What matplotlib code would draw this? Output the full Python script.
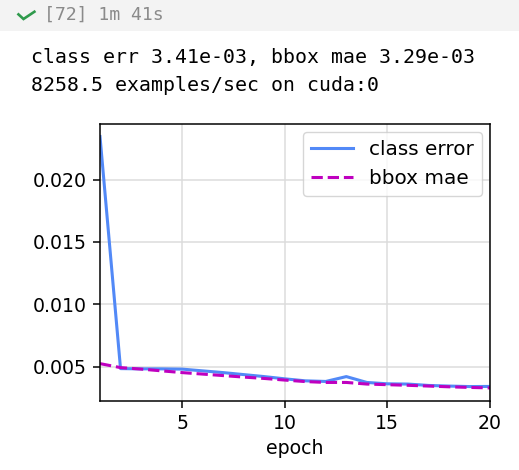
import matplotlib
matplotlib.use("Agg")
import matplotlib.pyplot as plt
from matplotlib.patches import Rectangle
from matplotlib.lines import Line2D

# per-epoch values
epochs = list(range(1, 21))
class_err = [0.02345, 0.00484, 0.00482, 0.00482, 0.0048, 0.00466, 0.00452, 0.00436, 0.0042, 0.00402,
             0.00386, 0.00381, 0.0042, 0.00373, 0.00362, 0.0036, 0.00349, 0.00344, 0.0034, 0.00341]
bbox_mae = [0.00524, 0.00492, 0.0048, 0.00466, 0.00452, 0.0044, 0.00428, 0.00416, 0.00405, 0.00392,
            0.0038, 0.00373, 0.00373, 0.0036, 0.00355, 0.0035, 0.00344, 0.00338, 0.00333, 0.00329]
header = "[72] 1m 41s"
out_lines = ["class err 3.41e-03, bbox mae 3.29e-03", "8258.5 examples/sec on cuda:0"]

W, H = 519, 470
s = 1.36  # screenshot scale
fig = plt.figure(figsize=(W / 100, H / 100), dpi=100)

# cell header bar
fig.patches.append(Rectangle((0, 1 - 31 / H), 1, 31 / H, transform=fig.transFigure,
                             facecolor="#f3f3f3", edgecolor="none", zorder=0))
# check mark
fig.add_artist(Line2D([17.5 / W, 23.5 / W, 35.5 / W], [1 - 13.5 / H, 1 - 19 / H, 1 - 11 / H],
                      transform=fig.transFigure, color="#2f9a4c", lw=1.9,
                      solid_joinstyle="miter", solid_capstyle="butt"))
fig.text(44 / W, 1 - 15 / H, header, color="#8a8a8a", fontsize=13.1, va="center",
         family="DejaVu Sans Mono")
fig.text(31 / W, 1 - 57 / H, out_lines[0], fontsize=14.3, va="center", family="DejaVu Sans Mono")
fig.text(31 / W, 1 - 86 / H, out_lines[1], fontsize=14.3, va="center", family="DejaVu Sans Mono")

ax = fig.add_axes([100 / W, (H - 400.5) / H, 390 / W, 276.5 / H])
ax.plot(epochs, class_err, "-", color="#5289f7", lw=2.2, label="class error")
ax.plot(epochs, bbox_mae, "m--", lw=2.2, label="bbox mae")
ax.set_xlim(1, 20)
ax.set_xticks([5, 10, 15, 20])
ax.set_yticks([0.005, 0.010, 0.015, 0.020])
ax.grid(True, color="#dcdcdc", lw=0.8 * s)
ax.set_xlabel("epoch", fontsize=10 * s, labelpad=3.5 * s)
ax.tick_params(labelsize=10 * s, length=3.5 * s, width=0.8 * s, pad=3.5 * s)
for sp in ax.spines.values():
    sp.set_linewidth(0.8 * s)
ax.legend(fontsize=14.4, loc="upper right", framealpha=0.8, handlelength=2.1,
          borderaxespad=0.4)

fig.savefig("out.png", dpi=100)
